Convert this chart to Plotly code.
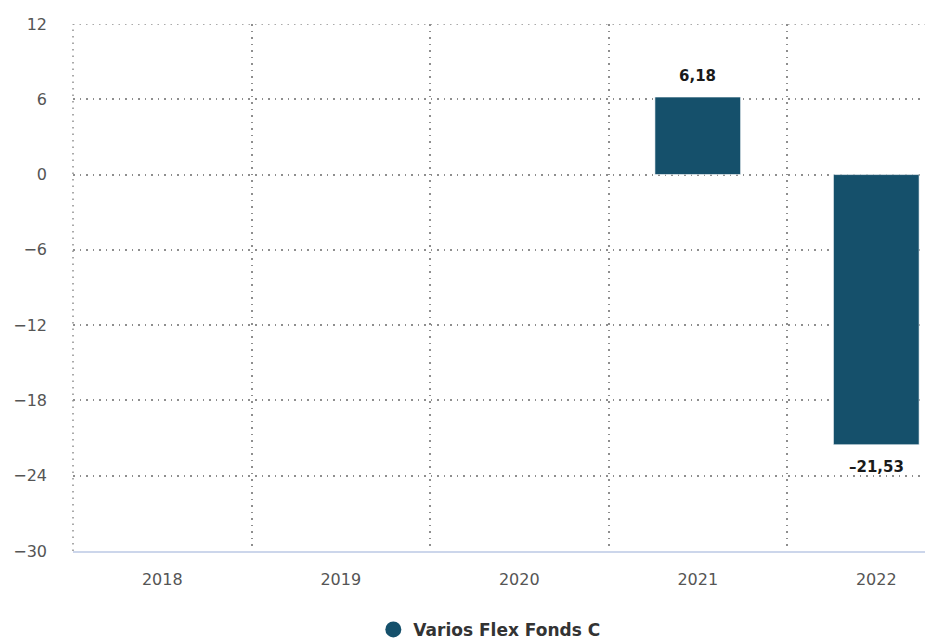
import plotly.graph_objects as go

years = ["2018", "2019", "2020", "2021", "2022"]
values = [None, None, None, 6.18, -21.53]
series_name = "Varios Flex Fonds C"
y_ticks = [-30, -24, -18, -12, -6, 0, 6, 12]

bar_color = "#15506b"
font_family = "DejaVu Sans"
grid_color = "#8e8e8e"
grid_dash = "1.5px,5px"
grid_width = 1.5

fig = go.Figure()
fig.add_trace(go.Bar(
    x=years, y=values, name=series_name,
    marker=dict(color=bar_color, line=dict(color="rgba(255,255,255,0.6)", width=1)),
    showlegend=False, hoverinfo="skip",
))
# legend-only trace (circle symbol)
fig.add_trace(go.Scatter(
    x=[None], y=[None], mode="markers", name=series_name,
    marker=dict(color=bar_color, size=17, symbol="circle"),
    showlegend=True,
))

for i, v in enumerate(values):
    if v is None:
        continue
    label = f"{v:.2f}".replace(".", ",").replace("-", "\u2013")
    fig.add_annotation(
        x=i, y=v, text=f"<b>{label}</b>", showarrow=False,
        yanchor="bottom" if v >= 0 else "top",
        yshift=10 if v >= 0 else -11,
        font=dict(family=font_family, size=15, color="#1a1a1a"),
    )

# edge gridlines (plotly drops gridlines lying on the plot edges)
fig.add_shape(type="line", xref="paper", yref="y", x0=0, x1=1, y0=12, y1=12,
              line=dict(color=grid_color, width=grid_width, dash=grid_dash), layer="below")
fig.add_shape(type="line", xref="paper", yref="paper", x0=0, x1=0, y0=0, y1=1,
              line=dict(color=grid_color, width=grid_width, dash=grid_dash), layer="below")

fig.update_layout(
    width=925, height=644,
    margin=dict(l=73, r=0, t=24, b=93),
    paper_bgcolor="white", plot_bgcolor="white",
    bargap=0.52,
    font=dict(family=font_family),
    legend=dict(
        orientation="h", xref="container", yref="container",
        x=0.529, xanchor="center", y=0.022, yanchor="middle",
        font=dict(family=font_family, size=17, color="#333333", weight="bold"),
    ),
    xaxis=dict(
        type="category", categoryorder="array", categoryarray=years,
        range=[-0.5, 4.273], tickson="boundaries",
        showgrid=True, gridcolor=grid_color, griddash=grid_dash, gridwidth=grid_width,
        showline=True, linecolor="#ccd6eb", linewidth=1.5,
        ticks="", ticklabelstandoff=13,
        tickfont=dict(family=font_family, size=16, color="#555555"),
        fixedrange=True,
    ),
    yaxis=dict(
        range=[-30, 12], tickvals=y_ticks,
        showgrid=True, gridcolor=grid_color, griddash=grid_dash, gridwidth=grid_width,
        zeroline=False, showline=False, ticks="", ticklabelstandoff=25,
        tickfont=dict(family=font_family, size=16, color="#555555"),
        fixedrange=True,
    ),
)

fig.write_html("out.html")
